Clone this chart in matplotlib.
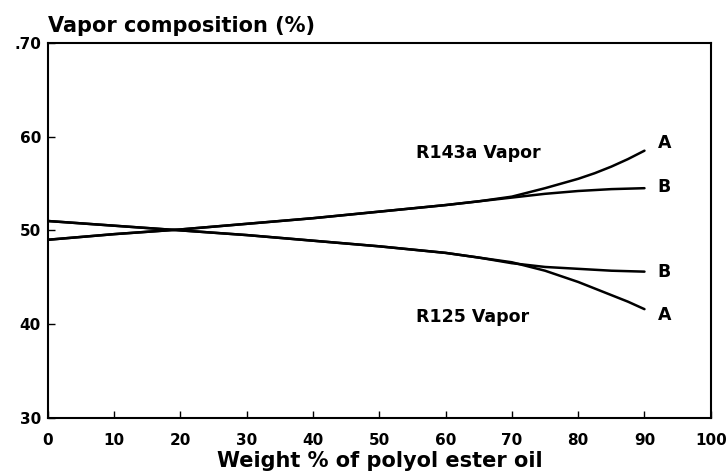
import matplotlib
matplotlib.use('Agg')
import matplotlib.pyplot as plt

# weight % of polyol ester oil
oil_pct = [0, 10, 20, 30, 40, 50, 60, 65, 70, 75, 80, 82.5, 85, 87.5, 90]

# R143a vapor composition (%)
r143a_A = [49.0, 49.6, 50.1, 50.7, 51.3, 52.0, 52.7, 53.1, 53.6, 54.5, 55.5, 56.1, 56.8, 57.6, 58.5]
r143a_B = [49.0, 49.6, 50.1, 50.7, 51.3, 52.0, 52.7, 53.1, 53.5, 53.9, 54.2, 54.3, 54.4, 54.45, 54.5]

# R125 vapor composition (%)
r125_A = [51.0, 50.5, 50.0, 49.5, 48.9, 48.3, 47.6, 47.1, 46.6, 45.7, 44.5, 43.8, 43.1, 42.4, 41.6]
r125_B = [51.0, 50.5, 50.0, 49.5, 48.9, 48.3, 47.6, 47.1, 46.5, 46.1, 45.9, 45.8, 45.7, 45.65, 45.6]

xticks = [0, 10, 20, 30, 40, 50, 60, 70, 80, 90, 100]
yticks = [30, 40, 50, 60, 70]
ytick_labels = ['30', '40', '50', '60', '.70']

plt.rcParams['font.family'] = 'DejaVu Sans'
plt.rcParams['font.weight'] = 'bold'

fig = plt.figure(figsize=(7.26, 4.76), dpi=100)
ax = fig.add_axes([0.066, 0.122, 0.913, 0.788])

for y in (r143a_A, r143a_B, r125_A, r125_B):
    ax.plot(oil_pct, y, color='black', lw=1.8, solid_capstyle='round')

ax.set_xlim(0, 100)
ax.set_ylim(30, 70)
ax.set_xticks(xticks)
ax.set_xticklabels([str(t) for t in xticks])
ax.set_yticks(yticks)
ax.set_yticklabels(ytick_labels)
ax.tick_params(axis='x', direction='in', length=5, width=1, pad=11, labelsize=11)
ax.tick_params(axis='y', direction='in', length=5, width=1, pad=5, labelsize=11)
for s in ax.spines.values():
    s.set_linewidth(1.5)

ax.text(55.6, 58.3, 'R143a Vapor', fontsize=12.5, fontweight='bold', va='center')
ax.text(55.6, 40.8, 'R125 Vapor', fontsize=12.5, fontweight='bold', va='center')
ax.text(92, 59.3, 'A', fontsize=12.5, fontweight='bold', va='center')
ax.text(92, 54.6, 'B', fontsize=12.5, fontweight='bold', va='center')
ax.text(92, 45.6, 'B', fontsize=12.5, fontweight='bold', va='center')
ax.text(92, 41.0, 'A', fontsize=12.5, fontweight='bold', va='center')

fig.text(48 / 726, 1 - 32 / 476, 'Vapor composition (%)', fontsize=15,
         fontweight='bold', va='baseline', ha='left')
ax.set_xlabel('Weight % of polyol ester oil', fontsize=15, fontweight='bold', labelpad=2)

fig.savefig('out.png', dpi=100)
